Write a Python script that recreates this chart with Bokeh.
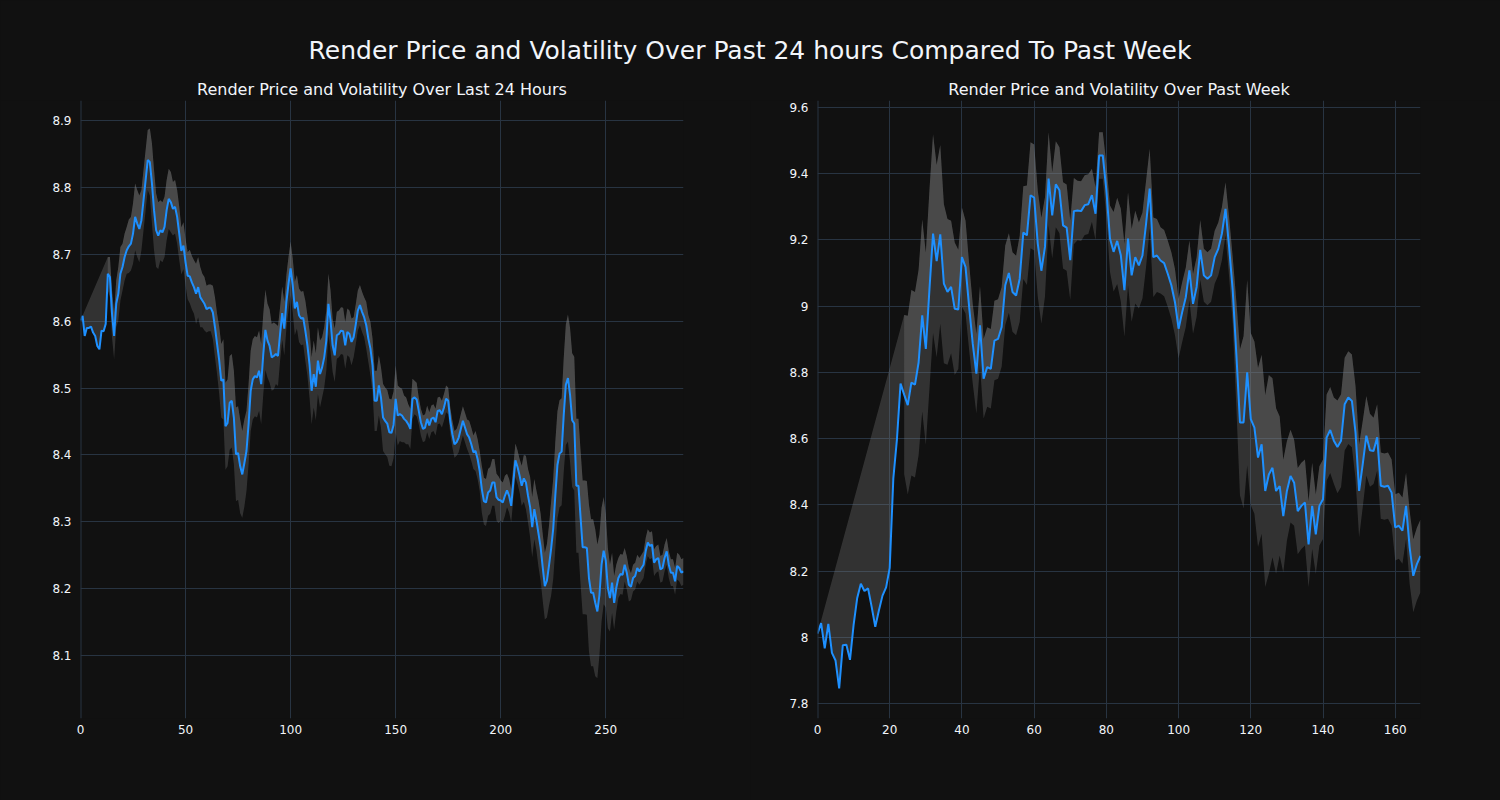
from bokeh.plotting import figure
from bokeh.layouts import column, row
from bokeh.models import Range1d, FixedTicker, Span
from bokeh.embed import file_html
from bokeh.resources import INLINE
from bokeh.core.properties import value

BG = "#111111"
GRID = "#283442"
TXT = "#f2f5fa"
LINE = "#1E90FF"
FILL = "#808080"
FONT = "DejaVu Sans"

main_title = "Render Price and Volatility Over Past 24 hours Compared To Past Week"
day_title = "Render Price and Volatility Over Last 24 Hours"
week_title = "Render Price and Volatility Over Past Week"

# ---- last 24 hours (5-minute steps) ----
day_price = [
    8.601, 8.608, 8.578, 8.590, 8.590, 8.592, 8.583, 8.578, 8.563, 8.558,
    8.586, 8.585, 8.596, 8.671, 8.666, 8.611, 8.578, 8.626, 8.641, 8.671,
    8.681, 8.696, 8.706, 8.712, 8.716, 8.731, 8.756, 8.746, 8.738, 8.751,
    8.781, 8.811, 8.841, 8.838, 8.806, 8.766, 8.736, 8.728, 8.736, 8.733,
    8.741, 8.766, 8.783, 8.778, 8.768, 8.771, 8.756, 8.731, 8.705, 8.713,
    8.688, 8.668, 8.667, 8.658, 8.651, 8.641, 8.651, 8.636, 8.631, 8.626,
    8.618, 8.620, 8.620, 8.613, 8.591, 8.566, 8.542, 8.511, 8.513, 8.443,
    8.448, 8.478, 8.481, 8.456, 8.401, 8.403, 8.383, 8.371, 8.388, 8.406,
    8.446, 8.496, 8.513, 8.518, 8.516, 8.526, 8.506, 8.551, 8.587, 8.571,
    8.563, 8.546, 8.548, 8.551, 8.548, 8.581, 8.612, 8.589, 8.629, 8.656,
    8.679, 8.654, 8.619, 8.629, 8.609, 8.604, 8.605, 8.586, 8.564, 8.536,
    8.496, 8.521, 8.502, 8.541, 8.521, 8.531, 8.546, 8.571, 8.626, 8.601,
    8.564, 8.549, 8.579, 8.581, 8.586, 8.585, 8.564, 8.584, 8.581, 8.569,
    8.576, 8.595, 8.616, 8.624, 8.614, 8.606, 8.594, 8.574, 8.559, 8.534,
    8.481, 8.481, 8.504, 8.486, 8.456, 8.451, 8.447, 8.434, 8.433, 8.445,
    8.484, 8.459, 8.461, 8.459, 8.454, 8.451, 8.446, 8.439, 8.484, 8.486,
    8.483, 8.466, 8.449, 8.439, 8.441, 8.454, 8.444, 8.454, 8.456, 8.449,
    8.466, 8.467, 8.461, 8.471, 8.484, 8.481, 8.451, 8.431, 8.416, 8.419,
    8.426, 8.439, 8.451, 8.441, 8.431, 8.426, 8.416, 8.404, 8.406, 8.394,
    8.376, 8.349, 8.331, 8.329, 8.344, 8.347, 8.359, 8.359, 8.337, 8.333,
    8.332, 8.329, 8.339, 8.347, 8.339, 8.324, 8.359, 8.392, 8.382, 8.369,
    8.354, 8.365, 8.359, 8.339, 8.322, 8.292, 8.319, 8.302, 8.282, 8.262,
    8.232, 8.204, 8.212, 8.235, 8.260, 8.290, 8.340, 8.385, 8.402, 8.405,
    8.460, 8.505, 8.515, 8.490, 8.452, 8.447, 8.354, 8.354, 8.307, 8.262,
    8.262, 8.261, 8.216, 8.194, 8.194, 8.179, 8.166, 8.191, 8.236, 8.257,
    8.242, 8.201, 8.186, 8.209, 8.179, 8.201, 8.216, 8.222, 8.221, 8.236,
    8.224, 8.206, 8.203, 8.216, 8.219, 8.231, 8.226, 8.231, 8.236, 8.256,
    8.269, 8.264, 8.266, 8.239, 8.244, 8.246, 8.229, 8.231, 8.246, 8.256,
    8.236, 8.224, 8.224, 8.211, 8.234, 8.231, 8.224, 8.226,
]
day_band_start = 13
# half-width of the volatility band, from day_band_start onwards
day_vol = [
    0.025, 0.03, 0.035, 0.035, 0.035, 0.04, 0.04,
    0.035, 0.035, 0.035, 0.04, 0.04, 0.045, 0.05, 0.05, 0.05, 0.045,
    0.045, 0.045, 0.045, 0.05, 0.06, 0.06, 0.055, 0.05, 0.045, 0.045,
    0.045, 0.045, 0.045, 0.045, 0.04, 0.04, 0.04, 0.04, 0.035, 0.035,
    0.035, 0.035, 0.04, 0.04, 0.04, 0.045, 0.045, 0.045, 0.04, 0.04,
    0.035, 0.035, 0.035, 0.04, 0.045, 0.045, 0.05, 0.055, 0.06, 0.065,
    0.065, 0.07, 0.07, 0.07, 0.07, 0.07, 0.07, 0.065, 0.065, 0.06,
    0.06, 0.06, 0.06, 0.06, 0.06, 0.06, 0.06, 0.06, 0.06, 0.055,
    0.055, 0.05, 0.05, 0.045, 0.045, 0.04, 0.04, 0.04, 0.04, 0.04,
    0.04, 0.04, 0.04, 0.04, 0.04, 0.04, 0.04, 0.045, 0.045, 0.05,
    0.05, 0.05, 0.05, 0.05, 0.05, 0.045, 0.045, 0.045, 0.045, 0.045,
    0.04, 0.04, 0.035, 0.035, 0.035, 0.035, 0.035, 0.035, 0.035, 0.035,
    0.03, 0.03, 0.03, 0.03, 0.03, 0.03, 0.035, 0.035, 0.04, 0.04,
    0.045, 0.045, 0.045, 0.045, 0.05, 0.05, 0.05, 0.05, 0.05, 0.05,
    0.05, 0.045, 0.04, 0.04, 0.035, 0.035, 0.03, 0.03, 0.03, 0.025,
    0.025, 0.02, 0.02, 0.02, 0.02, 0.02, 0.02, 0.02, 0.02, 0.02,
    0.02, 0.02, 0.02, 0.02, 0.02, 0.02, 0.02, 0.02, 0.02, 0.02,
    0.022, 0.022, 0.022, 0.022, 0.022, 0.025, 0.025, 0.025, 0.03, 0.03,
    0.03, 0.035, 0.035, 0.035, 0.035, 0.035, 0.035, 0.035, 0.035, 0.035,
    0.03, 0.03, 0.03, 0.025, 0.025, 0.025, 0.025, 0.025, 0.025, 0.025,
    0.03, 0.035, 0.04, 0.04, 0.045, 0.045, 0.045, 0.045, 0.05, 0.05,
    0.05, 0.05, 0.055, 0.06, 0.07, 0.075, 0.08, 0.08, 0.08, 0.08,
    0.085, 0.09, 0.095, 0.1, 0.1, 0.1, 0.1, 0.1, 0.1, 0.1,
    0.1, 0.1, 0.11, 0.11, 0.11, 0.11, 0.1, 0.09, 0.085, 0.08,
    0.07, 0.06, 0.05, 0.045, 0.04, 0.035, 0.03, 0.03, 0.03, 0.025,
    0.025, 0.025, 0.02, 0.02, 0.02, 0.02, 0.02, 0.02, 0.02, 0.02,
    0.02, 0.02, 0.02, 0.02, 0.02, 0.02, 0.02, 0.02, 0.02, 0.02,
    0.02, 0.02, 0.02, 0.02, 0.02, 0.02, 0.02, 0.02,
]
day_xticks = [0, 50, 100, 150, 200, 250]
day_yticks = [8.1, 8.2, 8.3, 8.4, 8.5, 8.6, 8.7, 8.8, 8.9]
day_ylabels = ["8.1", "8.2", "8.3", "8.4", "8.5", "8.6", "8.7", "8.8", "8.9"]
day_yrange = (8.006, 8.93)

# ---- past week (hourly steps) ----
week_price = [
    8.011, 8.043, 7.967, 8.041, 7.953, 7.930, 7.846, 7.976, 7.978, 7.932,
    8.038, 8.119, 8.162, 8.140, 8.148, 8.092, 8.032, 8.081, 8.126, 8.151,
    8.210, 8.480, 8.598, 8.766, 8.733, 8.701, 8.769, 8.763, 8.830, 8.972,
    8.871, 9.050, 9.219, 9.136, 9.217, 9.068, 9.043, 9.058, 8.992, 8.990,
    9.148, 9.118, 8.997, 8.886, 8.796, 8.942, 8.781, 8.816, 8.811, 8.896,
    8.901, 8.937, 9.063, 9.100, 9.043, 9.032, 9.083, 9.222, 9.214, 9.335,
    9.328, 9.189, 9.107, 9.179, 9.385, 9.274, 9.368, 9.350, 9.244, 9.237,
    9.139, 9.287, 9.289, 9.287, 9.305, 9.308, 9.335, 9.279, 9.455, 9.455,
    9.350, 9.204, 9.164, 9.197, 9.154, 9.048, 9.204, 9.093, 9.148, 9.123,
    9.153, 9.249, 9.355, 9.148, 9.153, 9.138, 9.130, 9.098, 9.063, 9.012,
    8.932, 8.982, 9.027, 9.108, 9.007, 9.058, 9.170, 9.093, 9.083, 9.093,
    9.148, 9.173, 9.219, 9.294, 9.178, 9.047, 8.855, 8.649, 8.649, 8.800,
    8.659, 8.633, 8.543, 8.583, 8.442, 8.492, 8.512, 8.442, 8.457, 8.366,
    8.442, 8.487, 8.467, 8.381, 8.397, 8.407, 8.281, 8.397, 8.311, 8.397,
    8.417, 8.603, 8.626, 8.594, 8.575, 8.594, 8.704, 8.724, 8.714, 8.619,
    8.442, 8.523, 8.609, 8.565, 8.563, 8.604, 8.458, 8.455, 8.458, 8.437,
    8.332, 8.337, 8.322, 8.397, 8.271, 8.186, 8.221, 8.246,
]
week_band_start = 24
week_vol = [
    0.24, 0.27, 0.28, 0.28, 0.28, 0.29,
    0.29, 0.3, 0.3, 0.29, 0.27, 0.24, 0.22, 0.2, 0.2, 0.18,
    0.15, 0.14, 0.13, 0.12, 0.12, 0.12, 0.12, 0.12, 0.12, 0.12,
    0.12, 0.12, 0.12, 0.12, 0.12, 0.12, 0.13, 0.14, 0.15, 0.16,
    0.16, 0.16, 0.16, 0.15, 0.14, 0.13, 0.13, 0.13, 0.13, 0.13,
    0.12, 0.1, 0.09, 0.09, 0.09, 0.09, 0.08, 0.08, 0.07, 0.07,
    0.08, 0.1, 0.12, 0.13, 0.14, 0.14, 0.14, 0.14, 0.14, 0.13,
    0.13, 0.13, 0.12, 0.12, 0.11, 0.1, 0.1, 0.1, 0.1, 0.1,
    0.09, 0.09, 0.09, 0.09, 0.09, 0.09, 0.09, 0.08, 0.08, 0.08,
    0.08, 0.08, 0.08, 0.08, 0.09, 0.1, 0.16, 0.22, 0.26, 0.28,
    0.26, 0.26, 0.27, 0.27, 0.29, 0.3, 0.27, 0.25, 0.21, 0.17,
    0.15, 0.14, 0.13, 0.13, 0.13, 0.13, 0.13, 0.13, 0.12, 0.12,
    0.12, 0.13, 0.13, 0.13, 0.14, 0.14, 0.14, 0.14, 0.14, 0.14,
    0.14, 0.13, 0.12, 0.11, 0.1, 0.1, 0.1, 0.1, 0.1, 0.1,
    0.1, 0.1, 0.1, 0.1, 0.11, 0.11, 0.11, 0.11,
]
week_xticks = [0, 20, 40, 60, 80, 100, 120, 140, 160]
week_yticks = [7.8, 8.0, 8.2, 8.4, 8.6, 8.8, 9.0, 9.2, 9.4, 9.6]
week_ylabels = ["7.8", "8", "8.2", "8.4", "8.6", "8.8", "9", "9.2", "9.4", "9.6"]
week_yrange = (7.755, 9.621)

assert len(day_price) == 288 and len(day_vol) == 288 - day_band_start
assert len(week_price) == 168 and len(week_vol) == 168 - week_band_start

FRAME_W, FRAME_H = 603, 618
HEAD_H = 100
BOTTOM = 82


def make_panel(price, vol, start, xticks, yticks, ylabels, yrange, bl, br):
    n = len(price)
    xs = list(range(n))
    bx = xs[start:]
    upper = [price[i] + vol[i - start] for i in bx]
    lower = [price[i] - vol[i - start] for i in bx]
    p = figure(width=bl + FRAME_W + br, height=FRAME_H + BOTTOM,
               x_range=Range1d(0, n - 1), y_range=Range1d(*yrange),
               output_backend="svg", toolbar_location=None,
               min_border_left=bl, min_border_right=br,
               min_border_top=0, min_border_bottom=BOTTOM)
    p.background_fill_color = BG
    p.border_fill_color = BG
    p.outline_line_color = None
    p.grid.grid_line_color = GRID
    p.grid.grid_line_width = 1
    p.xaxis.ticker = FixedTicker(ticks=xticks)
    p.yaxis.ticker = FixedTicker(ticks=yticks)
    p.yaxis.major_label_overrides = {t: s for t, s in zip(yticks, ylabels)}
    for ax in (p.xaxis, p.yaxis):
        ax.axis_line_color = None
        ax.major_tick_line_color = None
        ax.minor_tick_line_color = None
        ax.major_label_text_color = TXT
        ax.major_label_text_font = FONT
        ax.major_label_text_font_size = "12px"
    p.yaxis.major_label_standoff = 3
    p.xaxis.major_label_standoff = 0
    p.add_layout(Span(location=0, dimension="height", line_color=GRID, line_width=2))
    # band between lower and upper
    p.varea(x=bx, y1=lower, y2=upper, fill_color=FILL, fill_alpha=0.3)
    # band between price and upper (includes the opening wedge)
    px = bx + xs[::-1]
    py = upper + price[::-1]
    p.patch(px, py, fill_color=FILL, fill_alpha=0.3, line_color=None)
    p.line(xs, price, line_color=LINE, line_width=2)
    return p


left = make_panel(day_price, day_vol, day_band_start, day_xticks, day_yticks,
                  day_ylabels, day_yrange, 80, 67)
right = make_panel(week_price, week_vol, week_band_start, week_xticks, week_yticks,
                   week_ylabels, week_yrange, 67, 80)

head = figure(width=1500, height=HEAD_H, x_range=Range1d(0, 1500), y_range=Range1d(0, HEAD_H),
              output_backend="svg", toolbar_location=None, min_border=0)
head.axis.visible = False
head.grid.visible = False
head.background_fill_color = BG
head.border_fill_color = BG
head.outline_line_color = None
head.text(x=[749.5], y=[HEAD_H - 50], text=[main_title], text_align="center",
          text_baseline="middle", text_font=value(FONT), text_font_size="25px",
          text_color=TXT)
head.text(x=[381.5, 1118.5], y=[HEAD_H - 89, HEAD_H - 89], text=[day_title, week_title],
          text_align="center", text_baseline="middle", text_font=value(FONT),
          text_font_size="16px", text_color=TXT)

layout = column(head, row(left, right))
html = file_html(layout, INLINE, title="Render Price and Volatility")
html = html.replace("<body>", '<body style="background-color:#111111;">')
open("out.html", "w").write(html)
